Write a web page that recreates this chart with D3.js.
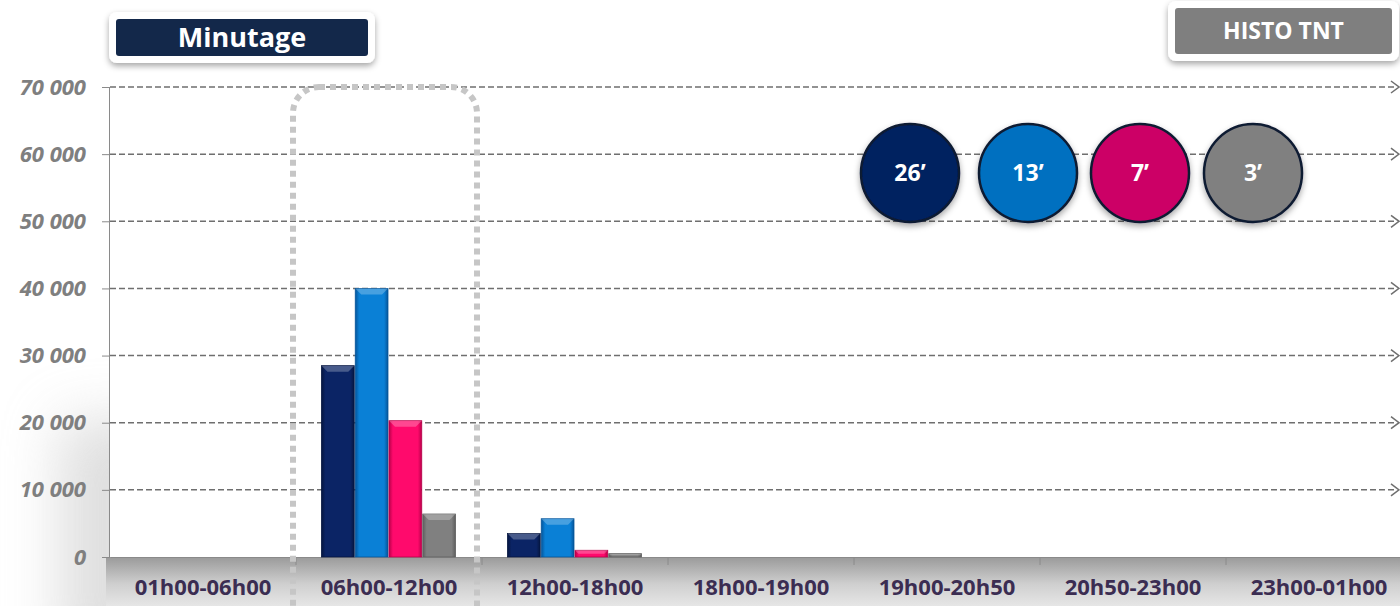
<!DOCTYPE html>
<html lang="fr">
<head>
<meta charset="UTF-8">
<title>Minutage - HISTO TNT</title>
<script src="https://d3js.org/d3.v7.min.js"></script>
<style>
  body { margin: 0; background: #fff; }
  #chart { width: 1400px; height: 606px; }
  .ylab { font-family: "Open Sans", sans-serif; font-size: 22px; font-weight: 700; font-style: italic; fill: #7f7f7f; }
  .xlab { font-family: "Open Sans", sans-serif; font-size: 22px; font-weight: 700; fill: #3b2d52; }
  .boxtxt { font-family: "Open Sans", sans-serif; font-weight: 700; fill: #fff; }
</style>
</head>
<body>
<div id="chart"></div>
<script>
// categories (time slots)
var categories = ["01h00-06h00", "06h00-12h00", "12h00-18h00", "18h00-19h00", "19h00-20h50", "20h50-23h00", "23h00-01h00"];
// series = programme durations
var series = ["26’", "13’", "7’", "3’"];
var s26 = [0, 28500, 3500, 0, 0, 0, 0];
var s13 = [0, 40000, 5700, 0, 0, 0, 0];
var s7  = [0, 20300, 1000, 0, 0, 0, 0];
var s3  = [0, 6400, 500, 0, 0, 0, 0];
var yTicks = [0, 10000, 20000, 30000, 40000, 50000, 60000, 70000];

var seriesValues = [s26, s13, s7, s3];
var barColors = ["#0b2465", "#0a80d6", "#ff0a6c", "#808080"];
var barDark = ["#061640", "#05559a", "#b80049", "#5e5e5e"];
var circleColors = ["#002060", "#0070c0", "#cc0066", "#808080"];

var W = 1400, H = 606;
var margin = { left: 110, top: 87, bottom: 49 };
var bandW = 186;

var svg = d3.select("#chart").append("svg")
  .attr("width", W).attr("height", H);

var defs = svg.append("defs");

// shelf gradient under the x axis
var shelf = defs.append("linearGradient").attr("id", "shelf").attr("x1", 0).attr("y1", 0).attr("x2", 0).attr("y2", 1);
shelf.append("stop").attr("offset", "0%").attr("stop-color", "#9a9a9a");
shelf.append("stop").attr("offset", "55%").attr("stop-color", "#cfcfcf");
shelf.append("stop").attr("offset", "100%").attr("stop-color", "#e6e6e6");

var blur = defs.append("filter").attr("id", "blur").attr("x", "-80%").attr("y", "-80%").attr("width", "260%").attr("height", "260%");
blur.append("feGaussianBlur").attr("stdDeviation", 28);

var shadow = defs.append("filter").attr("id", "shadow").attr("x", "-20%").attr("y", "-20%").attr("width", "140%").attr("height", "160%");
shadow.append("feDropShadow").attr("dx", 0).attr("dy", 3).attr("stdDeviation", 3).attr("flood-color", "#000").attr("flood-opacity", 0.35);

// bar gradients (bevel look)
barColors.forEach(function (c, i) {
  var g = defs.append("linearGradient").attr("id", "bar" + i).attr("x1", 0).attr("x2", 1).attr("y1", 0).attr("y2", 0);
  g.append("stop").attr("offset", "0%").attr("stop-color", barDark[i]);
  g.append("stop").attr("offset", "12%").attr("stop-color", c);
  g.append("stop").attr("offset", "88%").attr("stop-color", c);
  g.append("stop").attr("offset", "100%").attr("stop-color", barDark[i]);
});

var x = d3.scaleBand()
  .domain(categories)
  .range([margin.left, margin.left + bandW * categories.length])
  .padding(0);

var groupW = x.bandwidth() * 0.726;
var xs = d3.scaleBand()
  .domain(series)
  .range([(x.bandwidth() - groupW) / 2, (x.bandwidth() + groupW) / 2])
  .padding(0);

var y = d3.scaleLinear().domain([0, 70000]).range([H - margin.bottom, margin.top]);
var y0 = y(0);

// soft shadow at lower-left of the plot area
svg.append("rect")
  .attr("x", 60).attr("y", 420).attr("width", 110).attr("height", 240)
  .attr("fill", "#c4c4c4").attr("filter", "url(#blur)").attr("opacity", 0.55);
svg.append("rect")
  .attr("x", margin.left).attr("y", margin.top - 2).attr("width", W - margin.left).attr("height", y0 - margin.top + 2)
  .attr("fill", "#fff");

// shelf below axis
svg.append("rect")
  .attr("x", margin.left - 4).attr("y", y0).attr("width", W - margin.left + 4).attr("height", H - y0)
  .attr("fill", "url(#shelf)");

// gridlines
var fmt = function (d) { return d3.format(",")(d).replace(/,/g, " "); };
var gridEnd = W - 4;
yTicks.forEach(function (t) {
  if (t === 0) return;
  svg.append("line")
    .attr("x1", margin.left).attr("x2", gridEnd)
    .attr("y1", y(t)).attr("y2", y(t))
    .attr("stroke", "#6f6f6f").attr("stroke-width", 1.5)
    .attr("stroke-dasharray", "6,3");
  svg.append("path")
    .attr("d", "M" + (gridEnd - 5) + "," + (y(t) - 6) + " L" + (gridEnd + 3) + "," + y(t) + " L" + (gridEnd - 5) + "," + (y(t) + 6))
    .attr("fill", "none").attr("stroke", "#6f6f6f").attr("stroke-width", 1.5);
});

// y axis
var yAxis = svg.append("g")
  .attr("transform", "translate(" + margin.left + ",0)")
  .call(d3.axisLeft(y).tickValues(yTicks).tickSize(8).tickPadding(16).tickFormat(fmt));
yAxis.select(".domain").attr("stroke", "#8a8a8a").attr("d", "M-0.5," + margin.top + "V" + y0);
yAxis.selectAll(".tick line").attr("stroke", "#8a8a8a");
yAxis.selectAll(".tick text").attr("class", "ylab").attr("font-size", null).attr("font-family", null).attr("fill", null);

// x axis
var xAxis = svg.append("g")
  .attr("transform", "translate(0," + y0 + ")")
  .call(d3.axisBottom(x).tickSize(0).tickPadding(22));
xAxis.select(".domain").attr("stroke", "#8a8a8a");
xAxis.selectAll(".tick text").attr("class", "xlab").attr("font-size", null).attr("font-family", null).attr("fill", null);
categories.forEach(function (c, i) {
  if (i === 0) return;
  svg.append("line")
    .attr("x1", x(c)).attr("x2", x(c)).attr("y1", y0).attr("y2", y0 + 8)
    .attr("stroke", "#8a8a8a").attr("stroke-width", 1);
});

// bars
var groups = svg.append("g").selectAll("g")
  .data(categories)
  .join("g")
  .attr("transform", function (d) { return "translate(" + x(d) + ",0)"; });

groups.each(function (cat, ci) {
  var g = d3.select(this);
  series.forEach(function (s, si) {
    var v = seriesValues[si][ci];
    if (!v) return;
    var bx = xs(s), bw = xs.bandwidth() - 1, by = y(v), bh = y0 - by;
    g.append("rect")
      .attr("x", bx).attr("y", by).attr("width", bw).attr("height", bh)
      .attr("fill", "url(#bar" + si + ")")
      .attr("stroke", barDark[si]).attr("stroke-width", 0.8);
    var bev = Math.min(6, bh / 2);
    g.append("path")
      .attr("d", "M" + bx + "," + by + " L" + (bx + bw) + "," + by + " L" + (bx + bw - bev) + "," + (by + bev) + " L" + (bx + bev) + "," + (by + bev) + "Z")
      .attr("fill", "#fff").attr("opacity", 0.25);
  });
});

// dotted highlight around 06h00-12h00
var hl = categories[1];
svg.append("rect")
  .attr("x", x(hl) - 3).attr("y", margin.top).attr("width", x.bandwidth() - 2).attr("height", H)
  .attr("rx", 26)
  .attr("fill", "none").attr("stroke", "#c6c6c6").attr("stroke-width", 6)
  .attr("stroke-dasharray", "6,5");

// duration circles
var cx = [910, 1028, 1140, 1253];
var circles = svg.append("g").selectAll("g")
  .data(series)
  .join("g")
  .attr("transform", function (d, i) { return "translate(" + cx[i] + ",173)"; });
circles.append("circle")
  .attr("r", 49)
  .attr("fill", function (d, i) { return circleColors[i]; })
  .attr("stroke", "#101a33").attr("stroke-width", 2.5)
  .attr("filter", "url(#shadow)");
circles.append("text")
  .attr("class", "boxtxt")
  .attr("text-anchor", "middle").attr("dy", "0.36em")
  .attr("font-size", 23)
  .text(function (d) { return d; });

// title boxes
function titleBox(x0, y0b, w, h, fill, label, fs) {
  var g = svg.append("g");
  g.append("rect")
    .attr("x", x0 - 7).attr("y", y0b - 7).attr("width", w + 14).attr("height", h + 14)
    .attr("rx", 8).attr("fill", "#fff").attr("filter", "url(#shadow)");
  g.append("rect")
    .attr("x", x0).attr("y", y0b).attr("width", w).attr("height", h)
    .attr("rx", 3).attr("fill", fill);
  g.append("text")
    .attr("class", "boxtxt")
    .attr("x", x0 + w / 2).attr("y", y0b + h / 2).attr("dy", "0.36em")
    .attr("text-anchor", "middle")
    .attr("font-size", fs)
    .text(label);
}
titleBox(116, 19, 252, 37, "#13284a", "Minutage", 27);
titleBox(1175, 8, 217, 46, "#7f7f7f", "HISTO TNT", 23);
</script>
</body>
</html>
